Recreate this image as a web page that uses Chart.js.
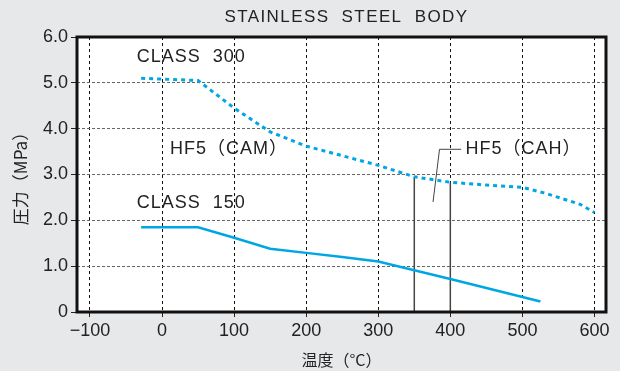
<!DOCTYPE html>
<html>
<head>
<meta charset="utf-8">
<script src="https://cdn.jsdelivr.net/npm/chart.js@4.4.0/dist/chart.umd.min.js"></script>
<style>
  html, body { margin: 0; padding: 0; background: #e7e8ea; }
  #wrap { width: 620px; height: 371px; }
</style>
</head>
<body>
<div id="wrap"><canvas id="pressureChart"></canvas></div>
<script>
// tick values
const xTicks = [-100, 0, 100, 200, 300, 400, 500, 600];
const yTicks = [0, 1, 2, 3, 4, 5, 6];

// CLASS 300 (dotted)
const class300Temp  = [-29, 50, 100, 150, 200, 250, 300, 350, 400, 450, 500, 530, 580, 600];
const class300Press = [5.1, 5.05, 4.45, 3.93, 3.62, 3.41, 3.2, 2.95, 2.83, 2.77, 2.72, 2.6, 2.35, 2.17];

// CLASS 150 (solid)
const class150Temp  = [-29, 50, 100, 150, 200, 250, 300, 400, 525];
const class150Press = [1.85, 1.85, 1.62, 1.38, 1.29, 1.2, 1.1, 0.72, 0.23];

// HF5 limits (vertical lines)
const hf5Temp = [350, 400];
const hf5Top  = [2.93, 2.82];

// leader line for HF5(CAH)
const leaderTemp  = [415, 385, 376];
const leaderPress = [3.55, 3.55, 2.4];

const toPts = (xs, ys) => xs.map((x, i) => ({ x: x, y: ys[i] }));

const FONT = "'Liberation Sans', 'Noto Sans CJK JP', sans-serif";
const JP_FONT = "'Noto Sans CJK JP', 'Liberation Sans', sans-serif";

// text in the plot, anchored in data units
const notes = [
  { text: 'CLASS  300', x: -35, y: 5.56 },
  { text: 'HF5\uFF08CAM\uFF09', x: 11, y: 3.56 },
  { text: 'CLASS  150', x: -35, y: 2.38 },
  { text: 'HF5\uFF08CAH\uFF09', x: 421, y: 3.56 }
];

const hf5Sets = hf5Temp.map((t, i) => ({
  data: toPts([t, t], [0, hf5Top[i]]),
  borderColor: '#444',
  borderWidth: 1.5,
  pointRadius: 0,
  showLine: true
}));

// background, plot frame, title and notes
const decor = {
  id: 'decor',
  beforeDraw(chart) {
    const { ctx, chartArea: a } = chart;
    ctx.save();
    ctx.fillStyle = '#e7e8ea';
    ctx.fillRect(0, 0, chart.width, chart.height);
    ctx.fillStyle = '#fff';
    ctx.fillRect(a.left, a.top, a.right - a.left, a.bottom - a.top);
    ctx.restore();
  },
  afterDraw(chart) {
    const { ctx, chartArea: a, scales } = chart;
    ctx.save();
    ctx.strokeStyle = '#111';
    ctx.lineWidth = 3;
    ctx.strokeRect(a.left, a.top, a.right - a.left, a.bottom - a.top);

    ctx.fillStyle = '#222';
    ctx.textBaseline = 'middle';
    ctx.letterSpacing = '1.4px';
    ctx.font = '17px ' + FONT;
    ctx.textAlign = 'center';
    ctx.fillText('STAINLESS  STEEL  BODY', (a.left + a.right) / 2 + 5, 17);

    ctx.letterSpacing = '1px';
    ctx.font = '18px ' + FONT;
    ctx.textAlign = 'left';
    notes.forEach(n => {
      ctx.fillText(n.text, scales.x.getPixelForValue(n.x), scales.y.getPixelForValue(n.y));
    });
    ctx.restore();
  }
};

const ctx = document.getElementById('pressureChart').getContext('2d');
new Chart(ctx, {
  type: 'scatter',
  data: {
    datasets: [
      {
        label: 'CLASS 300',
        data: toPts(class300Temp, class300Press),
        borderColor: '#00a6e4',
        borderWidth: 3,
        borderDash: [4, 4],
        pointRadius: 0,
        showLine: true
      },
      {
        label: 'CLASS 150',
        data: toPts(class150Temp, class150Press),
        borderColor: '#00a6e4',
        borderWidth: 2.5,
        pointRadius: 0,
        showLine: true
      },
      ...hf5Sets,
      {
        data: toPts(leaderTemp, leaderPress),
        borderColor: '#444',
        borderWidth: 1,
        pointRadius: 0,
        showLine: true
      }
    ]
  },
  options: {
    responsive: true,
    maintainAspectRatio: false,
    animation: false,
    layout: { padding: { top: 37, right: 14, left: 0, bottom: 0 } },
    plugins: {
      legend: { display: false },
      tooltip: { enabled: false }
    },
    scales: {
      x: {
        type: 'linear',
        min: -118,
        max: 616,
        afterBuildTicks: s => { s.ticks = xTicks.map(v => ({ value: v })); },
        afterFit: s => { s.height = 59; },
        border: { display: false, dash: [3, 3] },
        grid: {
          color: '#111',
          lineWidth: 1,
          drawTicks: true,
          tickLength: 5,
          tickColor: '#222',
          tickBorderDash: []
        },
        ticks: {
          padding: 3,
          color: '#222',
          font: { family: FONT, size: 18 },
          callback: v => (v < 0 ? '\u2212' + Math.abs(v) : String(v))
        },
        title: {
          display: true,
          text: '温度（°C）',
          color: '#222',
          font: { family: JP_FONT, size: 16 },
          padding: { top: 0, bottom: 1 }
        }
      },
      y: {
        min: 0,
        max: 6,
        afterBuildTicks: s => { s.ticks = yTicks.map(v => ({ value: v })); },
        afterFit: s => { s.width = 77; },
        border: { display: false, dash: [3, 2] },
        grid: {
          color: '#666',
          lineWidth: 1,
          drawTicks: true,
          tickLength: 6,
          tickColor: '#222',
          tickBorderDash: []
        },
        ticks: {
          padding: 3,
          color: '#222',
          font: { family: FONT, size: 18 },
          callback: v => (v === 0 ? '0' : v.toFixed(1))
        },
        title: {
          display: true,
          text: '圧力（MPa）',
          color: '#222',
          font: { family: JP_FONT, size: 17 },
          padding: { top: 10, bottom: 0 }
        }
      }
    }
  },
  plugins: [decor]
});
</script>
</body>
</html>
